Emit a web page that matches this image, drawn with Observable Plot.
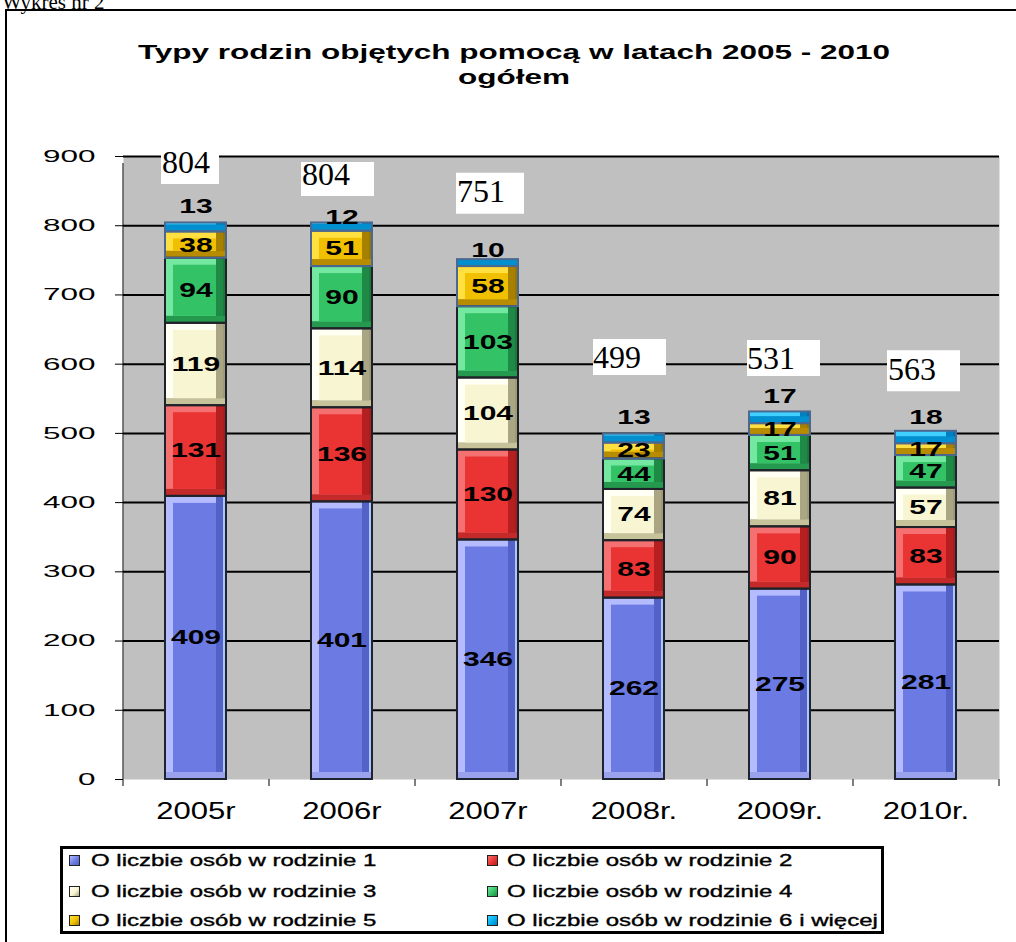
<!DOCTYPE html>
<html><head><meta charset="utf-8">
<script src="https://cdn.jsdelivr.net/npm/d3@7"></script>
<script src="https://cdn.jsdelivr.net/npm/@observablehq/plot@0.6"></script>
<style>
body{margin:0;background:#fff;}
#page{position:relative;width:1016px;height:942px;overflow:hidden;background:#fff;font-family:"Liberation Sans",Arial,sans-serif;}
#pre{position:absolute;left:2px;top:-8px;font:21px/21px "Liberation Serif","Times New Roman",serif;white-space:nowrap;}
#frame{position:absolute;left:5px;top:9px;width:1100px;height:1100px;border:2px solid #000;box-sizing:border-box;}
#chart{position:absolute;left:0;top:0;}
#title{position:absolute;left:6px;top:39px;width:1016px;text-align:center;font:bold 21px/25px "Liberation Sans",Arial,sans-serif;transform:scaleX(1.5);transform-origin:508px 0;white-space:nowrap;}
#legendbox{position:absolute;left:60px;top:846px;width:824px;height:88px;border:3px solid #000;box-sizing:border-box;}
.lgtext{position:absolute;font:16px/16px "Liberation Sans",Arial,sans-serif;-webkit-text-stroke:0.35px #000;white-space:nowrap;transform:scaleX(1.5);transform-origin:0 0;}
.lgsw{position:absolute;width:9px;height:9px;border:1px solid #222;}
</style></head><body>
<div id="page">
  <div id="pre">Wykres nr 2</div>
  <div id="frame"></div>
  <div id="chart"></div>
  <div id="title">Typy rodzin objętych pomocą w latach 2005 - 2010<br>ogółem</div>
  <div id="legendbox"></div>
  <div id="legend"></div>
</div>
<script>
// ---- data ----
const years = ["2005r", "2006r", "2007r", "2008r.", "2009r.", "2010r."];
const seriesNames = [
  "O liczbie osób w rodzinie 1",
  "O liczbie osób w rodzinie 2",
  "O liczbie osób w rodzinie 3",
  "O liczbie osób w rodzinie 4",
  "O liczbie osób w rodzinie 5",
  "O liczbie osób w rodzinie 6 i więcej"
];
const s1 = [409, 401, 346, 262, 275, 281];
const s2 = [131, 136, 130, 83, 90, 83];
const s3 = [119, 114, 104, 74, 81, 57];
const s4 = [94, 90, 103, 44, 51, 47];
const s5 = [38, 51, 58, 23, 17, 17];
const s6 = [13, 12, 10, 13, 17, 18];
const totalLabels = [804, 804, 751, 499, 531, 563];
const yTicks = [0, 100, 200, 300, 400, 500, 600, 700, 800, 900];

// ---- styles ----
const W = 1016, H = 942, ML = 123, MR = 17, MT = 156, MB = 163;
const step = (W - ML - MR) / years.length;
const sans = "Liberation Sans, Arial, sans-serif";
const serif = "Liberation Serif, Times New Roman, serif";
const pal = [
  {main:"#6b7be3", hl:"#b4bcff", sh:"#5462c8", edge:"#a9c6ff", bot:"#9aa2ee", line:"#1f2530"},
  {main:"#ea3434", hl:"#f57070", sh:"#b51f1f", edge:"#a81c1c", bot:"#c42a2a", line:"#1f2228"},
  {main:"#f8f6d2", hl:"#fffff4", sh:"#aaa684", edge:"#9e9a78", bot:"#c6c29a", line:"#1f2228"},
  {main:"#33c266", hl:"#74e8a0", sh:"#1f8a45", edge:"#1a7a3c", bot:"#25994e", line:"#1f2228"},
  {main:"#f0c000", hl:"#ffe040", sh:"#a88000", edge:"#987400", bot:"#b88c00", line:"#4a6890"},
  {main:"#00b0f0", hl:"#40d0ff", sh:"#0080c0", edge:"#0070b0", bot:"#0090d0", line:"#4a6890"}
];
// pixel nudges for manually placed labels (relative to band centre / bar top)
const topNudge = [-16, -5, -9, -16, -15, -14];
const totalText = [[-34, -50], [-40, -38], [-31, -58], [-41, -66], [-33, -43], [-38, -51]];
const totalBox = [[-35, -75, 58, 36], [-41, -61, 73, 34], [-32, -87, 68, 41], [-41, -95, 73, 36], [-33, -72, 73, 36], [-39, -81, 73, 41]];
const stretch = {17: 1.85, 23: 1.35, 20: 1.5};

// ---- table ----
const series = [s1, s2, s3, s4, s5, s6];
const rows = [];
series.forEach((vals, s) => vals.forEach((v, j) => rows.push({year: years[j], s, value: v})));
const tops = years.map((_, j) => d3.sum(series, arr => arr[j]));
const topRows = years.map((y, j) => ({year: y, top: tops[j], v: s6[j], total: totalLabels[j]}));

const layer = (key, opts) => Plot.barY(rows, Plot.stackY({x: "year", y: "value", fill: d => pal[d.s][key], ...opts}));

const marks = [
  Plot.frame({fill: "#c0c0c0", stroke: "none"}),
  Plot.gridY(yTicks.slice(1), {stroke: "#000", strokeOpacity: 1, strokeWidth: 2}),
  Plot.axisY(yTicks, {tickSize: 8, tickPadding: 20, fontSize: 17, fontFamily: sans, stroke: "#000"}),
  Plot.axisX({tickSize: 0, tickPadding: 23, fontSize: 23, fontFamily: sans}),
  Plot.ruleX(years, {x: d => d, dx: -step / 2, y1: 0, y2: 0, insetBottom: -7, stroke: "#000"}),
  Plot.ruleX(years.slice(-1), {x: d => d, dx: step / 2, y1: 0, y2: 0, insetBottom: -7, stroke: "#000"}),
  Plot.ruleX(years.slice(0, 1), {x: d => d, dx: -step / 2, y1: 0, y2: 900, insetBottom: -7, stroke: "#000"}),
  layer("bot", {}),
  layer("edge", {insetBottom: 7}),
  layer("sh", {insetBottom: 7, insetRight: 3}),
  layer("hl", {insetBottom: 7, insetRight: 10}),
  layer("main", {insetLeft: 8, insetRight: 10, insetTop: 7, insetBottom: 7}),
  Plot.barY(rows, Plot.stackY({x: "year", y: "value", fill: "none", stroke: d => pal[d.s].line, strokeWidth: 2})),
  Plot.text(rows.filter(d => d.s < 5), Plot.stackY({x: "year", y: "value", text: "value", fontSize: 20, fontWeight: "bold", fontFamily: sans, fill: "#000"}))
];
topRows.forEach((r, j) => {
  marks.push(Plot.text([r], {x: "year", y: "top", text: "v", dy: topNudge[j], fontSize: 20, fontWeight: "bold", fontFamily: sans, fill: "#000"}));
  const b = totalBox[j];
  marks.push(Plot.dot([r], {x: "year", y: "top", fill: "#fff", stroke: "none",
    symbol: {draw(ctx) { ctx.rect(b[0], b[1], b[2], b[3]); }}}));
  marks.push(Plot.text([r], {x: "year", y: "top", text: "total", dx: totalText[j][0], dy: totalText[j][1],
    textAnchor: "start", lineAnchor: "bottom", fontSize: 32, fontFamily: serif, fill: "#000"}));
});

const chart = Plot.plot({
  width: W, height: H, marginLeft: ML, marginRight: MR, marginTop: MT, marginBottom: MB,
  style: {background: "transparent", overflow: "visible", fontFamily: sans, color: "#000"},
  x: {domain: years, paddingInner: 0.58, paddingOuter: 0.29, label: null},
  y: {domain: [0, 900], label: null},
  marks
});
document.getElementById("chart").appendChild(chart);

// horizontally stretched glyphs as in the original
chart.querySelectorAll("text").forEach(t => {
  const fs = Math.round(parseFloat(getComputedStyle(t).fontSize));
  const s = stretch[fs];
  if (!s) return;
  let tr = t.getAttribute("transform");
  if (!tr) {
    const x = t.getAttribute("x") || 0, y = t.getAttribute("y") || 0;
    t.removeAttribute("x"); t.removeAttribute("y");
    tr = `translate(${x},${y})`;
  }
  t.setAttribute("transform", tr + ` scale(${s},1)`);
});

// legend
const lg = document.getElementById("legend");
const lgRowsBase = [866, 897, 926];
const lgCols = [[69, 91], [487, 507]];
seriesNames.forEach((name, i) => {
  const row = Math.floor(i / 2), col = i % 2;
  const base = lgRowsBase[row];
  const sw = document.createElement("div");
  sw.className = "lgsw";
  sw.style.left = lgCols[col][0] + "px";
  sw.style.top = (base - 11) + "px";
  sw.style.background = `linear-gradient(135deg, ${pal[i].hl} 0%, ${pal[i].main} 55%, ${pal[i].sh} 100%)`;
  lg.appendChild(sw);
  const tx = document.createElement("div");
  tx.className = "lgtext";
  tx.style.left = lgCols[col][1] + "px";
  tx.style.top = (base - 13) + "px";
  tx.textContent = name;
  lg.appendChild(tx);
});
</script>
</body></html>
